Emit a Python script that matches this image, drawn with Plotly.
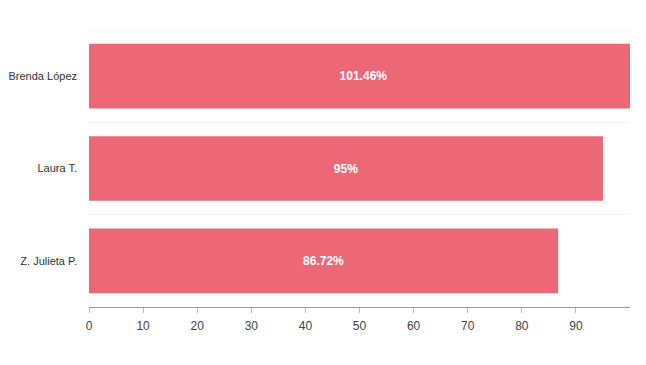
import plotly.graph_objects as go

names = ["Z. Julieta P.", "Laura T.", "Brenda López"]
values = [86.72, 95, 101.46]
labels = ["86.72%", "95%", "101.46%"]

fig = go.Figure(go.Bar(
    x=values, y=names, orientation="h",
    marker=dict(color="#EC6876", line=dict(width=0)),
    text=labels, textposition="inside", insidetextanchor="middle",
    textfont=dict(color="white", size=12, family="Liberation Sans, Arial", weight="bold"),
    cliponaxis=True, hoverinfo="skip",
))

shapes = []
for b in [0.5, 1.5, 2.5]:
    shapes.append(dict(type="line", xref="paper", x0=0, x1=1, yref="y", y0=b, y1=b,
                       line=dict(color="#F0F0F0", width=1), layer="below"))

fig.update_layout(
    width=646, height=365,
    margin=dict(l=81, r=24, t=22, b=66),
    paper_bgcolor="white", plot_bgcolor="white",
    bargap=0.3, showlegend=False,
    font=dict(family="Liberation Sans, Arial", color="#333"),
    shapes=shapes,
    xaxis=dict(range=[0, 100], tickvals=[0, 10, 20, 30, 40, 50, 60, 70, 80, 90],
               showgrid=False, zeroline=False, showline=True, linecolor="#999", linewidth=1,
               ticks="outside", ticklen=5, tickcolor="#bbb", automargin=False,
               ticklabelstandoff=3,
               tickfont=dict(size=12, color="#444")),
    yaxis=dict(showgrid=False, zeroline=False, showline=False, ticks="",
               ticklabelstandoff=11, tickfont=dict(size=11, color="#333"),
               range=[-0.5, 2.5], automargin=False),
)

fig.write_html("out.html")
